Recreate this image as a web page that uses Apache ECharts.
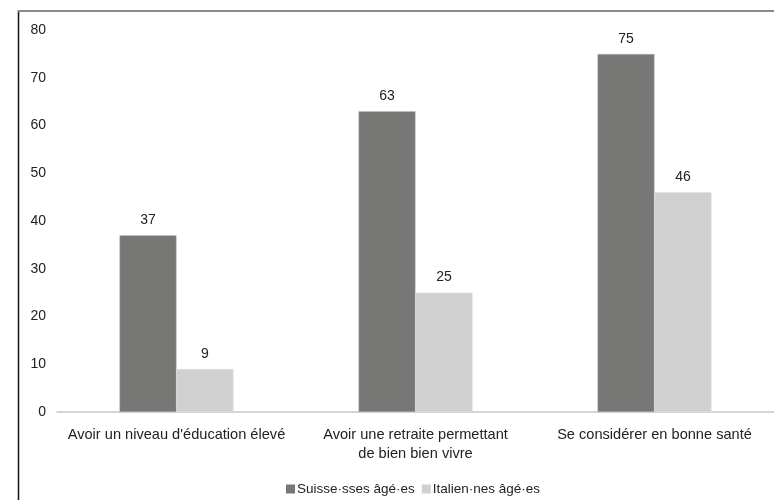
<!DOCTYPE html>
<html>
<head>
<meta charset="utf-8">
<script src="https://cdn.jsdelivr.net/npm/echarts@6/dist/echarts.min.js"></script>
<style>
  html, body { margin: 0; padding: 0; background: #fff; }
  #chart { width: 774px; height: 500px; }
</style>
</head>
<body>
<div id="chart"></div>
<script>
// Survey categories (x axis)
const categories = [
  "Avoir un niveau d'éducation élevé",
  "Avoir une retraite permettant\nde bien bien vivre",
  "Se considérer en bonne santé"
];
// Shares (%) per group
const suisses = [37, 63, 75];
const italiens = [9, 25, 46];
const seriesNames = ["Suisse·sses âgé·es", "Italien·nes âgé·es"];

const FONT = "'Liberation Sans', Arial, sans-serif";
const chart = echarts.init(document.getElementById('chart'), null, { renderer: 'canvas' });

const labelStyle = {
  show: true,
  position: 'top',
  distance: 8,
  color: '#222',
  fontSize: 14,
  fontFamily: FONT
};

chart.setOption({
  animation: false,
  backgroundColor: '#fff',
  textStyle: { fontFamily: FONT },
  grid: { left: 57, right: -3, top: 30, bottom: 88, containLabel: false },
  legend: {
    left: 281,
    top: 477,
    itemWidth: 9,
    itemHeight: 9,
    itemGap: 7,
    icon: 'rect',
    itemStyle: { borderWidth: 0 },
    textStyle: { color: '#222', fontSize: 13.5, fontFamily: FONT, padding: [0, 0, 0, -3] },
    data: seriesNames
  },
  xAxis: {
    type: 'category',
    data: categories,
    axisLine: { show: true, lineStyle: { color: '#c6c6c6', width: 1.5 } },
    axisTick: { show: false },
    axisLabel: {
      color: '#222',
      fontSize: 14.6,
      fontFamily: FONT,
      margin: 13,
      lineHeight: 19,
      interval: 0
    }
  },
  yAxis: {
    type: 'value',
    min: 0,
    max: 80,
    interval: 10,
    axisLine: { show: false },
    axisTick: { show: false },
    splitLine: { show: false },
    axisLabel: { color: '#222', fontSize: 14, fontFamily: FONT, margin: 11 }
  },
  series: [
    {
      name: seriesNames[0],
      type: 'bar',
      data: suisses,
      barWidth: 57,
      barGap: '0%',
      itemStyle: { color: '#777776', borderColor: '#bdbdbd', borderWidth: 0.5 },
      label: labelStyle
    },
    {
      name: seriesNames[1],
      type: 'bar',
      data: italiens,
      barWidth: 57,
      itemStyle: { color: '#d0d0d0', borderColor: '#e2e2e2', borderWidth: 0.5 },
      label: labelStyle
    }
  ],
  graphic: [
    // frame: dark rule on the left, grey rule along the top
    { type: 'line', shape: { x1: 18.5, y1: 10, x2: 18.5, y2: 500 }, style: { stroke: '#111', lineWidth: 1.5 } },
    { type: 'line', shape: { x1: 18, y1: 11, x2: 774, y2: 11 }, style: { stroke: '#8a8a8a', lineWidth: 2 } }
  ]
});
</script>
</body>
</html>
